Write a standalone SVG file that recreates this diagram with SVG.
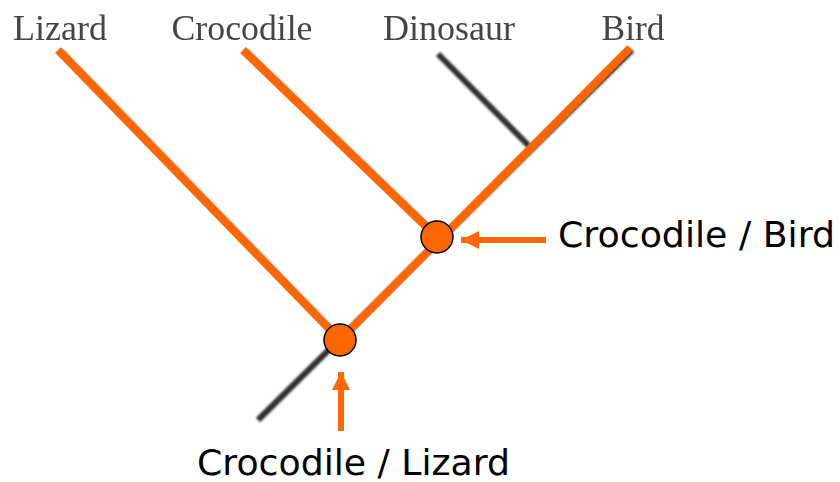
<svg xmlns="http://www.w3.org/2000/svg" width="840" height="482" viewBox="0 0 840 482">
  <defs>
    <filter id="soft" x="-10%" y="-10%" width="120%" height="120%">
      <feGaussianBlur stdDeviation="1"/>
    </filter>
    <filter id="textsoft">
      <feGaussianBlur stdDeviation="0.4"/>
    </filter>
    <marker id="head" viewBox="0 0 10 10" refX="10" refY="5" markerWidth="3" markerHeight="3.6" orient="auto" markerUnits="strokeWidth">
      <path d="M0,0 L10,5 L0,10 Z" fill="#ff6600"/>
    </marker>
  </defs>
  <style>
    .taxon { font-family: "Liberation Serif", "Times New Roman", serif; font-size: 36px; fill: #444; text-anchor: middle; filter: url(#textsoft); }
    .tree { stroke: #333; stroke-width: 6; fill: none; filter: url(#soft); }
    .path { stroke: #ff6600; stroke-width: 8; fill: none; }
    .arrow { stroke: #ff6600; stroke-width: 6; fill: none; }
    .node { fill: #ff6600; stroke: #000; stroke-width: 1.5; }
    .label { font-family: "Comic Sans MS", "DejaVu Sans", sans-serif; font-size: 35px; fill: #000; }
  </style>

  <!-- taxon names -->
  <g id="taxa">
    <text class="taxon" x="60" y="40" textLength="94" lengthAdjust="spacingAndGlyphs">Lizard</text>
    <text class="taxon" x="242" y="40" textLength="141" lengthAdjust="spacingAndGlyphs">Crocodile</text>
    <text class="taxon" x="449" y="40" textLength="132" lengthAdjust="spacingAndGlyphs">Dinosaur</text>
    <text class="taxon" x="633" y="40" textLength="63" lengthAdjust="spacingAndGlyphs">Bird</text>
  </g>

  <!-- base tree in grey, highlighted lineages in orange -->
  <g id="connectors">
    <g id="tree">
      <line class="tree" x1="61" y1="52" x2="343" y2="342"/>
      <line class="tree" x1="246" y1="52" x2="440" y2="239"/>
      <line class="tree" x1="438" y1="54" x2="529" y2="146"/>
      <line class="tree" x1="632" y1="50" x2="258" y2="420"/>
    </g>
    <g id="highlight">
      <line class="path" x1="58" y1="50" x2="340" y2="340"/>
      <line class="path" x1="243" y1="50" x2="437" y2="237"/>
      <line class="path" x1="630" y1="48" x2="340" y2="340"/>
    </g>
    <line class="arrow" x1="546" y1="240" x2="461" y2="240" marker-end="url(#head)"/>
    <line class="arrow" x1="341" y1="431" x2="341" y2="372" marker-end="url(#head)"/>
  </g>

  <g id="node-crocodile-bird">
    <circle class="node" cx="437" cy="237" r="16"/>
    <text class="label" x="558" y="247" textLength="277" lengthAdjust="spacingAndGlyphs">Crocodile / Bird</text>
  </g>

  <g id="node-crocodile-lizard">
    <circle class="node" cx="340" cy="340" r="16"/>
    <text class="label" x="197" y="475" textLength="313" lengthAdjust="spacingAndGlyphs">Crocodile / Lizard</text>
  </g>
</svg>
